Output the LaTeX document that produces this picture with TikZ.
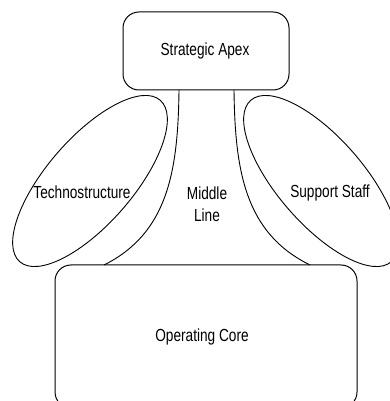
\documentclass[tikz,border=0pt]{standalone}
\usepackage{fontspec}
\newfontfamily\labelfont[FakeStretch=0.78]{Liberation Sans}
\usetikzlibrary{calc}
\begin{document}
\begin{tikzpicture}[x=1pt,y=1pt,
  part/.style={draw, line width=1pt, rounded corners=16pt},
  outline/.style={line width=0.9pt},
  lbl/.style={font=\labelfont\fontsize{17.5}{19}\selectfont, inner sep=0pt}]
\useasboundingbox (0,0) rectangle (390,401);
\begin{scope}
\clip (0,0) rectangle (390,401);
% top and bottom blocks
\node[part, minimum width=166pt, minimum height=78pt] (apex) at (206,350) {};
\node[part, minimum width=302pt, minimum height=143pt] (core) at (206,64.5) {};
% side ellipses
\draw[outline, rotate around={49:(90,220)}] (90,220) ellipse [x radius=107pt, y radius=43pt];
\draw[outline, rotate around={-49:(321,220)}] (321,220) ellipse [x radius=107pt, y radius=43pt];
\coordinate (techno) at (90,220);
\coordinate (support) at (321,220);
% middle line flanks
\coordinate (mlA) at (179,311);
\coordinate (mlB) at (104,136);
\coordinate (mrA) at (234,311);
\coordinate (mrB) at (310,136);
\draw[outline] (mlA) .. controls (178,230) and (168,168) .. (mlB);
\draw[outline] (mrA) .. controls (235,230) and (245,168) .. (mrB);
\end{scope}
% labels
\node[lbl] (tApex) at (205,350) {Strategic Apex};
\node[lbl] (tTech) at (82,209) {Technostructure};
\node[lbl] (tMid) at (207,208) {Middle};
\node[lbl] (tLine) at (207,186) {Line};
\node[lbl] (tSup) at (330,208) {Support Staff};
\node[lbl] (tCore) at (202,64) {Operating Core};
\end{tikzpicture}
\end{document}
